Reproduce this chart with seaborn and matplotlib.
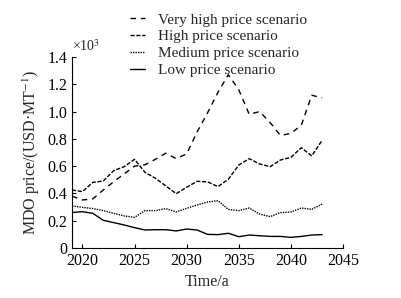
import matplotlib
matplotlib.use("Agg")
import matplotlib.pyplot as plt
import seaborn as sns
import pandas as pd
import numpy as np
from matplotlib.ticker import FuncFormatter

years = list(range(2019, 2044))
very_high = [0.380, 0.352, 0.360, 0.425, 0.486, 0.543, 0.600, 0.610, 0.650, 0.695, 0.655, 0.690,
             0.850, 0.990, 1.140, 1.270, 1.160, 0.980, 1.000, 0.920, 0.825, 0.840, 0.900, 1.120, 1.100]
high = [0.425, 0.413, 0.481, 0.491, 0.567, 0.596, 0.650, 0.555, 0.511, 0.455, 0.398, 0.445,
        0.489, 0.485, 0.450, 0.504, 0.608, 0.655, 0.616, 0.596, 0.645, 0.665, 0.735, 0.675, 0.790]
medium = [0.308, 0.298, 0.289, 0.274, 0.254, 0.235, 0.225, 0.274, 0.274, 0.289, 0.264, 0.291,
          0.315, 0.337, 0.347, 0.283, 0.274, 0.293, 0.249, 0.230, 0.259, 0.264, 0.293, 0.283, 0.322]
low = [0.260, 0.266, 0.254, 0.203, 0.186, 0.169, 0.149, 0.132, 0.134, 0.134, 0.125, 0.139,
       0.132, 0.100, 0.098, 0.108, 0.083, 0.095, 0.090, 0.085, 0.085, 0.078, 0.085, 0.095, 0.098]
labels = ["Very high price scenario", "High price scenario",
          "Medium price scenario", "Low price scenario"]

df = pd.concat([
    pd.DataFrame({"Year": years, "Price": vals, "Scenario": lab})
    for lab, vals in zip(labels, [very_high, high, medium, low])
])

sns.set_style("ticks")
plt.rcParams["font.family"] = ["Liberation Serif", "DejaVu Serif"]
plt.rcParams["mathtext.fontset"] = "stix"

fig = plt.figure(figsize=(4.02, 2.98), dpi=100)
ax = fig.add_axes([72 / 402, 1 - 248 / 298, (343 - 72) / 402, (248 - 57) / 298])

dashes = {
    labels[0]: (4, 3.5),
    labels[1]: (3, 1.2),
    labels[2]: (1, 0.8),
    labels[3]: "",
}
sns.lineplot(data=df, x="Year", y="Price", style="Scenario", style_order=labels,
             dashes=dashes, color="black", linewidth=1.0, ax=ax, legend=True)

ax.set_xlim(2019, 2045)
ax.set_ylim(0, 1.4)
ax.set_xticks([2020, 2025, 2030, 2035, 2040, 2045])
ax.set_yticks(np.arange(0, 1.41, 0.2))
ax.yaxis.set_major_formatter(FuncFormatter(lambda v, p: "0" if abs(v) < 1e-9 else f"{v:.1f}"))
ax.tick_params(direction="in", labelsize=11.5, length=3, width=0.8, colors="black")
for s in ["top", "right"]:
    ax.spines[s].set_visible(False)
for s in ["left", "bottom"]:
    ax.spines[s].set_linewidth(0.8)
    ax.spines[s].set_color("black")

ax.set_xlabel("Time/a", fontsize=11.5)
ax.set_ylabel("MDO price/(USD·MT$^{-1}$)", fontsize=11.5)
ax.text(0.0, 1.015, r"×10$^{3}$", transform=ax.transAxes, fontsize=10, ha="left", va="bottom")

h, l = ax.get_legend_handles_labels()
ax.get_legend().remove()
fig.legend(h, l, loc="upper left", bbox_to_anchor=(130 / 402, 1 - 13 / 298),
           frameon=False, fontsize=11, handlelength=0.95, handletextpad=0.85,
           labelspacing=0.2, borderaxespad=0, borderpad=0)

fig.savefig("out.png", dpi=100)
